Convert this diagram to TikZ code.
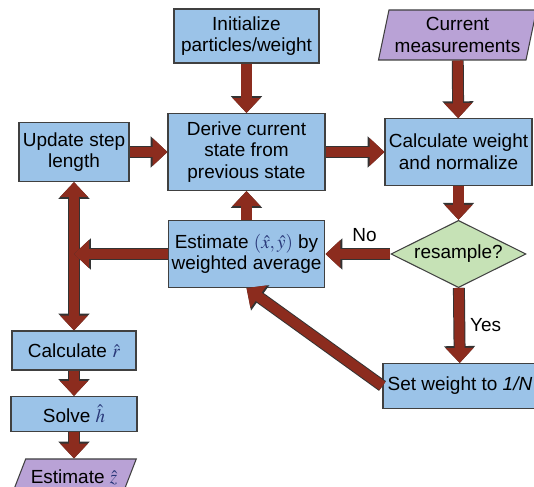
\documentclass[tikz,border=0pt]{standalone}
\usepackage{amsmath}
\usepackage{mathptmx}
\usepackage{fontspec}
\setmainfont{Liberation Sans}
\usetikzlibrary{shapes.geometric}
\usetikzlibrary{arrows.meta}

\definecolor{procblue}{RGB}{155,195,232}
\definecolor{iopurple}{RGB}{185,162,214}
\definecolor{decgreen}{RGB}{198,226,182}
\definecolor{flowred}{RGB}{140,44,30}
\definecolor{mathnavy}{RGB}{40,55,120}
\newcommand{\hatvar}[1]{\textcolor{mathnavy}{$\hat{#1}$}}

\begin{document}
\begin{tikzpicture}
	\tikzstyle{every node}=[font=\fontsize{10.8}{12.3}\selectfont]
	\tikzset{proc/.style = {rectangle, draw = black!75, line width = 0.6pt, fill = procblue, align = center, inner sep = 2pt}}
	\tikzset{inout/.style = {trapezium, trapezium stretches body, draw = black!75, line width = 0.6pt, fill = iopurple, align = center, inner sep = 2pt}}
	\tikzset{decide/.style = {diamond, aspect = 2, draw = black!75, line width = 0.6pt, fill = decgreen, inner sep = 1pt}}
	\tikzset{flow/.style = {draw = flowred, line width = 5.7pt, -{Triangle[width = 15.4pt, length = 8.5pt]},
		preaction = {draw = black!80, line width = 6.8pt, -{Triangle[width = 17.2pt, length = 9.6pt]}}}}
	\tikzset{flowboth/.style = {draw = flowred, line width = 5.7pt, {Triangle[width = 15.4pt, length = 8.5pt]}-{Triangle[width = 15.4pt, length = 8.5pt]},
		preaction = {draw = black!80, line width = 6.8pt, {Triangle[width = 17.2pt, length = 9.6pt]}-{Triangle[width = 17.2pt, length = 9.6pt]}}}}

\useasboundingbox (0,0) rectangle (10.68,-9.74);

%% Top row
\draw (4.93,-0.72) node[proc, name = init, minimum width = 2.90cm, minimum height = 1.08cm]{Initialize\\particles/weight};
\draw (9.15,-0.70) node[inout, name = meas, trapezium left angle = 76, trapezium right angle = 104, minimum width = 3.16cm, minimum height = 1.0cm]{Current\\measurements};

%% Middle row
\draw (1.48,-3.04) node[proc, name = update, minimum width = 2.20cm, minimum height = 1.18cm]{Update step\\length};
\draw (4.93,-3.04) node[proc, name = derive, minimum width = 3.14cm, minimum height = 1.54cm]{Derive current\\state from\\previous state};
\draw (9.17,-3.04) node[proc, name = calcw, minimum width = 2.94cm, minimum height = 1.33cm]{Calculate weight\\and normalize};

%% Estimate and decision
\draw (4.93,-5.08) node[proc, name = estim, minimum width = 3.10cm, minimum height = 1.34cm]{Estimate \textcolor{mathnavy}{$(\hat{x},\hat{y})$} by\\weighted average};
\draw (9.17,-5.08) node[decide, name = resample, minimum width = 2.70cm, minimum height = 1.34cm]{resample?};
\draw (9.20,-7.72) node[proc, name = setw, minimum width = 3.08cm, minimum height = 0.90cm]{Set weight to \textit{1/N}};

%% Left column
\draw (1.48,-7.01) node[proc, name = calcr, minimum width = 2.48cm, minimum height = 0.78cm]{Calculate \hatvar{r}};
\draw (1.48,-8.28) node[proc, name = solveh, minimum width = 2.52cm, minimum height = 0.70cm]{Solve \hatvar{h}};
\draw (1.48,-9.54) node[inout, name = estz, trapezium left angle = 58, trapezium right angle = 122, minimum width = 2.49cm, minimum height = 0.72cm]{Estimate \hatvar{z}};
\coordinate (junction) at (update.south |- estim.west);

%% Edges
\draw[flow] (init) -- (derive);
\draw[flow] (meas) -- (calcw);
\draw[flow] (update) -- (derive);
\draw[flow] (derive) -- (calcw);
\draw[flow] (calcw) -- (resample);
\draw[flow] (resample) -- node[pos = 0.4, above = 1pt, text = black]{No} (estim);
\draw[flow] (resample) -- node[midway, right, text = black]{Yes} (setw);
\draw[flow] (setw.west) -- (estim.south);
\draw[flow] (estim) -- (derive);
\draw[flowboth] (update) -- (calcr);
\draw[flow] (estim) -- (junction);
\draw[flow] (calcr) -- (solveh);
\draw[flow] (solveh) -- (estz);

\end{tikzpicture}
\end{document}
